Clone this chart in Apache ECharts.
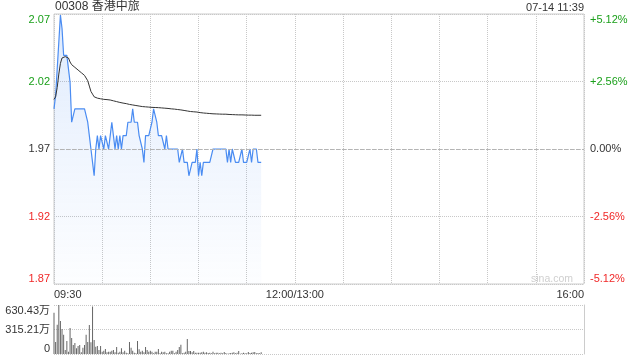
<!DOCTYPE html>
<html>
<head>
<meta charset="utf-8">
<script src="https://cdn.jsdelivr.net/npm/echarts@6/dist/echarts.min.js"></script>
<style>
html,body{margin:0;padding:0;background:#fff;}
#c{width:640px;height:360px;}
</style>
</head>
<body>
<div id="c"></div>
<script>
const stockTitle = '00308 香港中旅';
const stampText = '07-14 11:39';
const watermark = 'sina.com';
const prevClose = 1.97;

// minute prices from 09:30 (index = minutes since open)
const prices = [
2.00,2.01,2.03,2.05,2.07,2.06,2.04,2.04,2.04,2.04,
2.02,1.99,1.99,2.00,2.00,2.00,2.00,2.00,2.00,2.00,
2.00,1.99,1.98,1.97,1.96,1.95,1.97,1.98,1.97,1.98,
1.98,1.97,1.98,1.98,1.97,1.98,1.99,1.98,1.97,1.98,
1.97,1.98,1.97,1.98,1.98,1.98,1.99,1.99,1.99,2.00,
1.99,1.99,1.99,1.98,1.98,1.97,1.96,1.98,1.98,1.98,
1.98,1.99,2.00,2.00,1.99,1.98,1.98,1.98,1.98,1.97,
1.98,1.97,1.97,1.97,1.97,1.97,1.97,1.97,1.96,1.96,
1.97,1.96,1.96,1.96,1.95,1.95,1.96,1.96,1.96,1.97,
1.95,1.96,1.95,1.96,1.96,1.96,1.96,1.96,1.96,1.97,
1.97,1.97,1.97,1.97,1.97,1.97,1.97,1.97,1.96,1.97,
1.96,1.97,1.97,1.96,1.96,1.96,1.96,1.97,1.96,1.96,
1.96,1.96,1.97,1.96,1.97,1.97,1.97,1.96,1.96,1.96
];

// average price line
const avgPrices = [
2.007,2.009,2.016,2.026,2.034,2.038,2.039,2.039,2.039,2.038,
2.035,2.033,2.032,2.031,2.030,2.029,2.028,2.027,2.026,2.025,
2.024,2.021,2.017,2.013,2.011,2.009,2.0085,2.008,2.0078,2.0075,
2.0072,2.0071,2.007,2.0069,2.0068,2.0066,2.0063,2.006,2.0057,2.0054,
2.0051,2.0048,2.0045,2.0043,2.0041,2.0039,2.0036,2.0033,2.0031,2.0029,
2.0027,2.0025,2.0023,2.0021,2.0019,2.0017,2.0016,2.0015,2.0014,2.0013,
2.0012,2.0011,2.0011,2.001,2.001,2.0009,2.0008,2.0007,2.0006,2.0005,
2.0004,2.0003,2.0001,2.0,1.9999,1.9998,1.9997,1.9995,1.9993,1.9992,
1.999,1.9988,1.9986,1.9984,1.9982,1.998,1.9979,1.9978,1.9977,1.9976,
1.9974,1.9972,1.997,1.9969,1.9968,1.9967,1.9966,1.9965,1.9964,1.9963,
1.9963,1.9962,1.9962,1.9961,1.9961,1.996,1.996,1.996,1.9959,1.9958,
1.9958,1.9957,1.9957,1.9956,1.9956,1.9955,1.9955,1.9955,1.9954,1.9954,
1.9954,1.9953,1.9953,1.9953,1.9953,1.9952,1.9952,1.9952,1.9952,1.9952
];

// minute volumes in 万
const volumes = [
532,154,377,630,425,322,249,51,167,30,
334,206,116,141,73,103,116,21,81,116,
249,154,373,150,610,180,94,103,51,103,
30,43,64,21,30,30,43,51,21,90,
17,30,73,21,43,17,9,154,81,43,
17,9,167,60,30,43,21,90,51,30,
43,30,9,30,30,64,9,30,21,30,
9,9,30,43,43,9,30,51,90,120,
9,17,30,193,39,39,21,39,17,17,
17,17,21,30,17,21,13,17,9,30,
9,17,17,9,17,9,26,13,4,9,
13,17,21,9,17,39,4,9,17,9,
9,26,13,17,21,26,9,13,9,21
];

const timeTickMinutes = [0, 150, 330];
const timeTickLabels = ['09:30', '12:00/13:00', '16:00'];
const priceTickLabels = ['1.87', '1.92', '1.97', '2.02', '2.07'];
const pctTickLabels = ['-5.12%', '-2.56%', '0.00%', '+2.56%', '+5.12%'];
const volTickLabels = ['0', '315.21万', '630.43万'];
const volMax = 630.43;

const FONT = "'Liberation Sans', Arial, 'Noto Sans CJK SC', sans-serif";
const GREEN = '#1ba01b', RED = '#f02828', DARK = '#333';
const pct = p => (p / prevClose - 1) * 100;
const tickColor = (v) => {
  const n = parseFloat(v);
  return n > 1e-9 ? GREEN : (n < -1e-9 ? RED : DARK);
};
const dotted = { color: '#c8c8c8', type: [1, 1], width: 1 };

const chart = echarts.init(document.getElementById('c'), null, { renderer: 'canvas' });
chart.setOption({
  animation: false,
  textStyle: { fontFamily: FONT },
  title: [
    { text: stockTitle, left: 55, top: 1, padding: 0, textStyle: { fontSize: 12, fontWeight: 'normal', color: DARK, fontFamily: FONT } },
    { text: stampText, right: 56, top: 2, padding: 0, textStyle: { fontSize: 11, fontWeight: 'normal', color: DARK, fontFamily: FONT } },
    { text: watermark, right: 67, top: 274, padding: 0, textStyle: { fontSize: 10.5, fontWeight: 'normal', color: '#cfcfcf', fontFamily: FONT } }
  ],
  grid: [
    { left: 54, right: 56, top: 14, height: 270, show: true, borderColor: '#cccccc', borderWidth: 1, backgroundColor: 'transparent' },
    { left: 54, right: 56, top: 305, height: 49 }
  ],
  xAxis: [
    {
      type: 'value', gridIndex: 0, min: 0, max: 330, interval: 30,
      axisLine: { show: false }, axisTick: { show: false },
      splitLine: { show: true, lineStyle: dotted },
      axisLabel: {
        show: true, margin: 5, fontSize: 11, color: DARK, fontFamily: FONT,
        showMinLabel: true, showMaxLabel: true,
        alignMinLabel: 'left', alignMaxLabel: 'right',
        formatter: (v) => { const k = timeTickMinutes.indexOf(Math.round(v)); return k >= 0 ? timeTickLabels[k] : ''; }
      }
    },
    {
      type: 'value', gridIndex: 1, min: 0, max: 330, interval: 30,
      axisLine: { show: false }, axisTick: { show: false },
      splitLine: { show: false }, axisLabel: { show: false }
    }
  ],
  yAxis: [
    {
      type: 'value', gridIndex: 0, min: -5.12, max: 5.12, interval: 2.56, position: 'left',
      axisLine: { show: false }, axisTick: { show: false },
      splitLine: { show: true, lineStyle: dotted },
      axisLabel: {
        margin: 4, fontSize: 11, fontFamily: FONT,
        verticalAlignMinLabel: 'bottom', verticalAlignMaxLabel: 'top',
        color: (v) => tickColor(v),
        formatter: (v, i) => priceTickLabels[i]
      }
    },
    {
      type: 'value', gridIndex: 0, min: -5.12, max: 5.12, interval: 2.56, position: 'right',
      axisLine: { show: false }, axisTick: { show: false }, splitLine: { show: false },
      axisLabel: {
        margin: 6, fontSize: 11, fontFamily: FONT,
        verticalAlignMinLabel: 'bottom', verticalAlignMaxLabel: 'top',
        color: (v) => tickColor(v),
        formatter: (v, i) => pctTickLabels[i]
      }
    },
    {
      type: 'value', gridIndex: 1, min: 0, max: volMax, interval: volMax / 2, position: 'left',
      axisLine: { show: false }, axisTick: { show: false },
      splitLine: { show: true, lineStyle: dotted },
      axisLabel: {
        margin: 4, fontSize: 11, color: DARK, fontFamily: FONT,
        verticalAlignMinLabel: 'bottom', verticalAlignMaxLabel: 'top',
        formatter: (v, i) => volTickLabels[i]
      }
    },
    {
      type: 'value', gridIndex: 1, min: 0, max: volMax, position: 'right',
      axisLine: { show: true, lineStyle: { color: '#cccccc', width: 1 } },
      axisTick: { show: false }, splitLine: { show: false }, axisLabel: { show: false }
    }
  ],
  series: [
    {
      type: 'line', xAxisIndex: 0, yAxisIndex: 0, symbol: 'none', silent: true,
      data: prices.map((p, i) => [i, pct(p)]),
      lineStyle: { color: '#4a8cf2', width: 1.2 },
      areaStyle: {
        origin: 'start',
        color: new echarts.graphic.LinearGradient(0, 0, 0, 1, [
          { offset: 0, color: 'rgba(74,140,242,0.26)' },
          { offset: 0.5, color: 'rgba(74,140,242,0.12)' },
          { offset: 1, color: 'rgba(74,140,242,0.02)' }
        ])
      },
      markLine: {
        silent: true, symbol: 'none', label: { show: false },
        lineStyle: { color: '#b4b4b4', type: [4, 2], width: 1 },
        data: [{ yAxis: 0 }]
      },
      z: 3
    },
    {
      type: 'line', xAxisIndex: 0, yAxisIndex: 0, symbol: 'none', silent: true,
      data: avgPrices.map((p, i) => [i, pct(p)]),
      lineStyle: { color: '#333333', width: 1 },
      z: 4
    },
    {
      type: 'bar', xAxisIndex: 1, yAxisIndex: 2, silent: true,
      data: volumes.map((v, i) => [i, v]),
      barWidth: 1, itemStyle: { color: '#666666' }
    }
  ]
});
</script>
</body>
</html>
